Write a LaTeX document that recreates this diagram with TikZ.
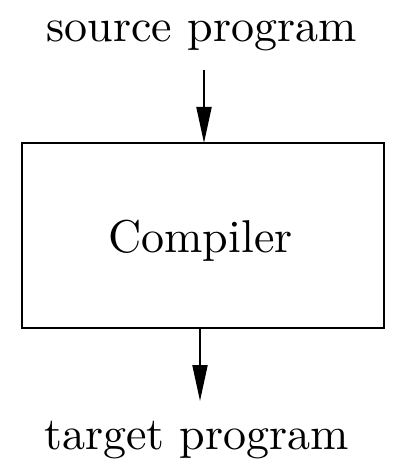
\documentclass[tikz,border=0pt]{standalone}
\usetikzlibrary{arrows.meta}
\newcommand{\bigtxt}[1]{\scalebox{2.3}{#1}}
\begin{document}
\begin{tikzpicture}[x=0.5pt,y=-0.5pt,
  lbl/.style={anchor=base,inner sep=0pt,font=\normalsize},
  conn/.style={line width=1pt,-{Triangle[length=18pt,width=7.5pt]}}]
\useasboundingbox (0,0) rectangle (414,476);
\node[lbl] (src) at (201.5,42) {\bigtxt{source program}};
\draw[line width=1pt] (22,143) rectangle (384,328);
\node[lbl] (comp) at (200.5,252) {\bigtxt{Compiler}};
\node[lbl] (tgt) at (196.5,449) {\bigtxt{target program}};
\coordinate (a1) at (204,70);
\coordinate (a2) at (204,143);
\coordinate (b1) at (200,328);
\coordinate (b2) at (200,401);
\draw[conn] (a1) -- (a2);
\draw[conn] (b1) -- (b2);
\end{tikzpicture}
\end{document}
